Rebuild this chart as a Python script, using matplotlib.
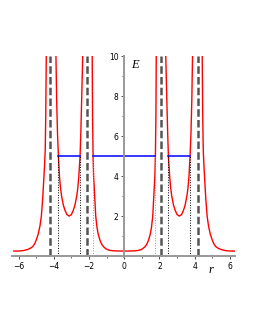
import matplotlib
matplotlib.use("Agg")
import matplotlib.pyplot as plt
import numpy as np

# values, right half (r >= 0); the chart is mirror-symmetric
central_r = [0.0, 0.3, 0.6, 0.8, 0.95, 1.05, 1.15, 1.25, 1.33, 1.4, 1.48, 1.55, 1.62, 1.68, 1.74, 1.77, 1.8, 1.82]
central_E = [0.25, 0.25, 0.26, 0.28, 0.32, 0.37, 0.44, 0.55, 0.68, 0.85, 1.1, 1.45, 2.0, 3.0, 4.0, 5.0, 7.0, 10.0]

well_r = [2.36, 2.42, 2.47, 2.51, 2.58, 2.64, 2.7, 2.8, 2.89, 3.0, 3.13,
          3.26, 3.37, 3.46, 3.56, 3.62, 3.68, 3.74, 3.79, 3.84, 3.88]
well_E = [10.0, 7.8, 6.1, 5.0, 4.0, 3.4, 3.0, 2.55, 2.3, 2.08, 2.0,
          2.08, 2.3, 2.55, 3.0, 3.4, 4.0, 5.0, 6.1, 7.8, 10.0]

outer_r = [4.43, 4.46, 4.49, 4.53, 4.58, 4.64, 4.71, 4.79, 4.88, 4.98, 5.08, 5.2, 5.35, 5.52, 5.75, 6.0, 6.28]
outer_E = [10.0, 7.0, 5.3, 4.5, 3.7, 2.8, 2.0, 1.5, 1.13, 0.85, 0.63, 0.47, 0.38, 0.32, 0.27, 0.25, 0.25]

asymptotes = [2.1, 4.2]          # dashed lines
energy = 5.0                     # blue level
turning = [1.77, 2.51, 3.74]     # dotted lines (r where curve meets E)
xticks = [-6, -4, -2, 0, 2, 4, 6]
yticks = [2, 4, 6, 8, 10]


def mirror(r, E):
    r = np.asarray(r)
    E = np.asarray(E)
    return -r[::-1], E[::-1]


fig = plt.figure(figsize=(2.55, 3.3), dpi=100)
ax = fig.add_axes([0.0455, 0.2212, 0.8765, 0.6076])

red = '#ff0000'
# central piece
cr = np.concatenate([-np.asarray(central_r)[::-1], central_r[1:]])
cE = np.concatenate([np.asarray(central_E)[::-1], central_E[1:]])
ax.plot(cr, cE, color=red, lw=1.0)
# wells and outer pieces on both sides
for r, E in [(well_r, well_E), (outer_r, outer_E)]:
    ax.plot(r, E, color=red, lw=1.0)
    mr, mE = mirror(r, E)
    ax.plot(mr, mE, color=red, lw=1.0)

# turning points
for t in turning:
    c = '#999999' if t == turning[0] else 'black'
    for s in (-1, 1):
        ax.plot([s * t, s * t], [0, energy], color=c, lw=0.7, ls=(0, (1, 1.6)))

# asymptotes
for a in asymptotes:
    for s in (-1, 1):
        ax.plot([s * a, s * a], [0, 10], color='#555555', lw=1.8, ls=(0, (3, 1.3)))

# energy level
for lo, hi in [(-turning[2], -turning[1]), (-turning[0], turning[0]), (turning[1], turning[2])]:
    ax.plot([lo, hi], [energy, energy], color='#0000ff', lw=1.1)

ax.set_xlim(-6.4, 6.3)
ax.set_ylim(-0.05, 10.0)
for side in ['top', 'right']:
    ax.spines[side].set_visible(False)
ax.spines['left'].set_position(('data', 0))
ax.spines['bottom'].set_position(('data', 0))
for side in ['left', 'bottom']:
    ax.spines[side].set_color('#999999')
    ax.spines[side].set_linewidth(1.4)

ax.set_xticks(xticks)
ax.set_xticklabels([str(v) if v >= 0 else '\u2212' + str(-v) for v in xticks])
ax.set_yticks(yticks)
ax.set_xticks([-5, -3, -1, 1, 3, 5], minor=True)
ax.set_yticks([1, 3, 5, 7, 9], minor=True)
ax.tick_params(which='major', length=2.5, width=0.6, color='#333333', labelsize=5.5, pad=1.5)
ax.tick_params(which='minor', length=1.5, width=0.5, color='#333333')

ax.text(0.6, 9.55, 'E', fontsize=9, style='italic', family='Liberation Serif', ha='center', va='center')
ax.text(4.95, -0.7, 'r', fontsize=9, style='italic', family='Liberation Serif', ha='center', va='center')

fig.savefig('out.png', dpi=100)
